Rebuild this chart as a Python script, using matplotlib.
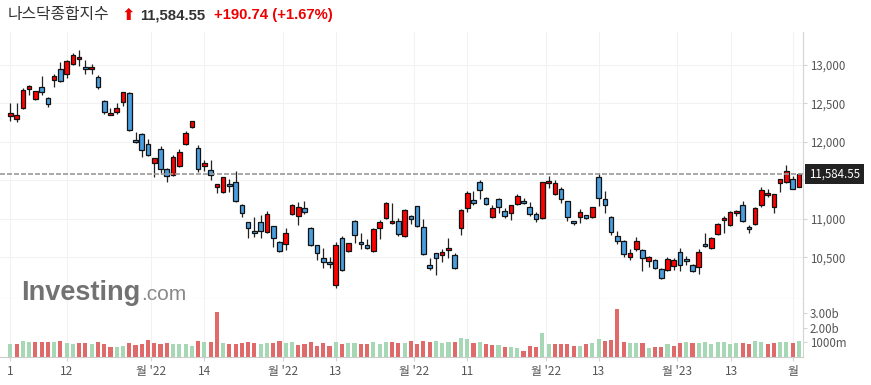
import numpy as np
import matplotlib
matplotlib.use("Agg")
import matplotlib.pyplot as plt
from matplotlib import transforms
from matplotlib.ticker import FuncFormatter

plt.rcParams["font.family"] = ["Noto Sans CJK KR", "DejaVu Sans"]

# daily candles (index points)
opens = [12333, 12294, 12437, 12684, 12554, 12710, 12571, 12801, 12944, 12879,
         13009, 13074, 12970, 12944, 12840, 12532, 12355, 12385, 12515, 12632,
         12021, 12099, 11969, 11722, 11904, 11644, 11566, 11683, 11969, 12190,
         11917, 11687, 11631, 11410, 11345, 11453, 11479, 11176, 10955, 10838,
         10955, 10825, 10903, 10695, 10669, 11059, 11033, 11137, 10877, 10656,
         10487, 10435, 10136, 10747, 10578, 10968, 10695, 10656, 10578, 10877,
         11007, 10942, 10968, 10773, 11033, 11163, 10890, 10396, 10552, 10526,
         10591, 10526, 10877, 11137, 11241, 11475, 11267, 11020, 11254, 11098,
         11072, 11189, 11228, 11150, 11059, 11007, 11462, 11319, 11384, 11228,
         10968, 11020, 11046, 11020, 11540, 11254, 11020, 10773, 10708, 10500,
         10604, 10591, 10448, 10461, 10344, 10331, 10383, 10565, 10474, 10396,
         10370, 10669, 10617, 10799, 10981, 10916, 11072, 11176, 10890, 10929,
         11176, 11306, 11150, 11462, 11475, 11514, 11410]
highs = [12502, 12502, 12697, 12740, 12666, 12857, 12588, 12879, 13035, 13065,
         13156, 13195, 13065, 13009, 12870, 12545, 12437, 12502, 12653, 12653,
         12125, 12112, 12034, 11795, 11947, 11657, 11830, 11904, 12142, 12272,
         11960, 11765, 11761, 11457, 11548, 11522, 11622, 11189, 10963, 11020,
         11046, 11098, 10911, 10708, 10877, 11189, 11215, 11232, 10890, 10664,
         10617, 10500, 10695, 10773, 10690, 10981, 10812, 10734, 10877, 10981,
         11215, 11202, 11007, 11124, 11046, 11167, 10994, 10487, 10560, 10604,
         10747, 10552, 11124, 11358, 11358, 11501, 11280, 11176, 11267, 11137,
         11184, 11319, 11267, 11215, 11085, 11484, 11553, 11501, 11410, 11236,
         10976, 11124, 11054, 11158, 11592, 11358, 11033, 10838, 10721, 10604,
         10760, 10604, 10513, 10474, 10357, 10500, 10487, 10617, 10513, 10409,
         10604, 10812, 10760, 10942, 11033, 11098, 11111, 11228, 10916, 11150,
         11410, 11384, 11327, 11522, 11696, 11553, 11600]
lows = [12272, 12263, 12428, 12610, 12541, 12610, 12450, 12710, 12775, 12827,
        13000, 12987, 12879, 12879, 12684, 12359, 12350, 12359, 12471, 12142,
        11992, 11800, 11817, 11548, 11579, 11475, 11557, 11670, 11960, 12177,
        11613, 11622, 11501, 11332, 11340, 11353, 11219, 11028, 10747, 10760,
        10747, 10812, 10630, 10569, 10591, 11050, 10916, 11059, 10647, 10461,
        10357, 10357, 10097, 10318, 10569, 10682, 10604, 10604, 10565, 10734,
        10994, 10933, 10773, 10768, 10929, 10890, 10526, 10331, 10266, 10435,
        10487, 10344, 10786, 11085, 11176, 11254, 11176, 11011, 11072, 11007,
        10981, 11180, 11189, 11033, 10955, 10994, 11397, 11310, 11202, 10968,
        10916, 10942, 11000, 11007, 11163, 11072, 10786, 10669, 10500, 10461,
        10578, 10318, 10370, 10344, 10214, 10318, 10331, 10318, 10396, 10305,
        10279, 10634, 10604, 10786, 10812, 10903, 11033, 10955, 10812, 10916,
        11150, 11289, 11072, 11345, 11466, 11388, 11410]
closes = [12372, 12346, 12671, 12727, 12660, 12650, 12497, 12853, 12788, 13048,
          13126, 13100, 12944, 12970, 12710, 12385, 12380, 12437, 12645, 12151,
          11995, 11891, 11826, 11787, 11644, 11553, 11800, 11865, 12112, 12268,
          11644, 11726, 11566, 11449, 11540, 11423, 11228, 11072, 10877, 10812,
          10838, 11059, 10747, 10578, 10812, 11176, 11150, 11085, 10656, 10552,
          10435, 10409, 10656, 10331, 10682, 10786, 10669, 10617, 10864, 10955,
          11202, 10968, 10799, 11111, 10994, 10903, 10539, 10357, 10487, 10565,
          10617, 10357, 11111, 11332, 11202, 11371, 11189, 11145, 11155, 11033,
          11176, 11293, 11202, 11059, 10994, 11475, 11488, 11462, 11254, 11020,
          10942, 11085, 11007, 11150, 11267, 11176, 10825, 10708, 10545, 10555,
          10708, 10487, 10500, 10357, 10227, 10478, 10470, 10396, 10448, 10318,
          10565, 10643, 10747, 10929, 11007, 11085, 11098, 10968, 10864, 11137,
          11371, 11332, 11319, 11514, 11618, 11393.81, 11584.55]
# volume in billions of shares
volumes = [0.85, 0.85, 1.09, 0.99, 0.99, 0.99, 0.99, 0.99, 1.09, 0.92,
           0.85, 0.92, 0.92, 0.85, 0.99, 0.85, 0.69, 0.69, 0.76, 0.92,
           0.81, 0.85, 1.15, 0.92, 0.85, 0.92, 0.85, 0.85, 0.85, 0.76,
           1.09, 0.99, 0.99, 3.07, 0.92, 0.85, 0.85, 0.92, 0.99, 0.92,
           0.85, 0.92, 0.92, 1.09, 0.92, 0.99, 0.81, 0.85, 0.99, 0.76,
           0.92, 0.76, 0.99, 0.85, 0.92, 0.92, 0.85, 0.85, 0.99, 0.85,
           0.99, 0.99, 0.92, 0.92, 1.09, 0.85, 1.09, 0.99, 1.06, 0.92,
           0.99, 0.99, 1.32, 1.20, 0.92, 0.99, 0.88, 0.79, 0.79, 0.69,
           0.69, 0.62, 0.39, 0.76, 0.69, 1.62, 0.85, 0.85, 0.85, 0.85,
           0.76, 0.76, 0.85, 0.92, 1.20, 1.09, 1.15, 3.28, 0.99, 0.92,
           0.92, 0.92, 0.62, 0.69, 0.69, 0.85, 0.76, 0.92, 0.99, 0.92,
           0.92, 0.99, 0.85, 0.99, 0.99, 0.85, 0.92, 0.92, 0.85, 1.11,
           0.99, 0.85, 0.92, 0.99, 0.99, 0.92, 1.11]

tick_pos = [0, 9, 22.5, 31, 43.5, 52, 64.5, 73, 85.6, 94, 106.5, 115.2, 125]
tick_labels = ["1", "12", "월 '22", "14", "월 '22", "13", "월 '22", "11",
               "월 '22", "13", "월 '23", "13", "월"]
price_ticks = [10500, 11000, 11500, 12000, 12500, 13000]
vol_ticks = [1.0, 2.0, 3.0]
vol_tick_labels = ["1000m", "2.00b", "3.00b"]

title_name = "나스닥종합지수"
last_price = closes[-1]
change = 190.74
change_pct = 1.67

UP = "#ff0000"
DOWN = "#4a9ee0"
VOL_UP = "#a6d8b6"
VOL_DOWN = "#e06a6a"
GRID = "#f2f2f2"
AXIS = "#d4d4d4"
LABEL = "#555555"

W, H = 871, 385


def fx(px):
    return px / W


def fy(py):
    return 1 - py / H


def price_label(val, pos):
    # the 11,500 label sits under the last-price tag, so leave it blank
    if abs(val - last_price) < 200:
        return ""
    return f"{val:,.0f}"


o = np.array(opens, dtype=float)
h = np.array(highs, dtype=float)
l = np.array(lows, dtype=float)
c = np.array(closes, dtype=float)
v = np.array(volumes, dtype=float)
x = np.arange(len(c))

fig = plt.figure(figsize=(W / 100, H / 100), dpi=100)
ax = fig.add_axes([0, fy(299), fx(803), fy(32) - fy(299)])
axv = fig.add_axes([0, fy(356.7), fx(803), fy(299) - fy(356.7)], sharex=ax)

# candles
up = c >= o
body_col = np.where(up, UP, DOWN)
ax.vlines(x, l, h, color="#222222", lw=0.9, zorder=2)
ax.bar(x, np.maximum(np.abs(c - o), 10), bottom=np.minimum(o, c), width=0.74,
       color=body_col, edgecolor="#111111", linewidth=0.9, zorder=3)
ax.axhline(last_price, color="#9a9a9a", lw=1.2, ls=(0, (3, 1.2)), zorder=4)

ax.set_xlim(-1.65, len(c) - 0.35)
ax.set_ylim(9958, 13429)
ax.set_yticks(price_ticks)
ax.yaxis.set_major_formatter(FuncFormatter(price_label))
ax.yaxis.tick_right()
ax.set_xticks(tick_pos)
ax.tick_params(axis="x", length=0, labelbottom=False)
ax.tick_params(axis="y", length=3, color=AXIS, labelsize=8.3, labelcolor=LABEL, pad=2)
ax.grid(True, color=GRID, lw=0.8, zorder=0)
for s in ["top", "left"]:
    ax.spines[s].set_visible(False)
ax.spines["right"].set_color(AXIS)
ax.spines["bottom"].set_color("#cccccc")

# last price tag
tr = transforms.blended_transform_factory(ax.transAxes, ax.transData)
ax.text(1.0 + 6 / 803, last_price, f"{last_price:,.2f}", transform=tr,
        ha="left", va="center", color="white", fontsize=8.3, zorder=10, clip_on=False,
        bbox=dict(boxstyle="square,pad=0.32", fc="#222222", ec="none"))

# volume
vol_up = np.concatenate([[True], c[1:] > c[:-1]])
vol_col = np.where(vol_up, VOL_UP, VOL_DOWN)
axv.bar(x, v, width=0.66, color=vol_col, zorder=2)
axv.set_ylim(0, 4.0)
axv.set_yticks(vol_ticks, vol_tick_labels)
axv.yaxis.tick_right()
axv.set_xticks(tick_pos, tick_labels)
axv.tick_params(axis="x", length=3, color=AXIS, labelsize=8.5, labelcolor=LABEL, pad=3)
axv.tick_params(axis="y", length=3, color=AXIS, labelsize=8.3, labelcolor=LABEL, pad=2)
axv.grid(True, axis="x", color=GRID, lw=0.8, zorder=0)
for s in ["top", "left"]:
    axv.spines[s].set_visible(False)
axv.spines["right"].set_color(AXIS)
axv.spines["bottom"].set_color("#cccccc")

# header
fig.text(fx(8), fy(15), title_name, fontsize=11.4, color="#333333", va="center")
fig.text(fx(122), fy(15.5), "⬆", fontsize=11.5, color="#ee0000", va="center",
         weight="bold", family=["DejaVu Sans"])
fig.text(fx(140), fy(15), f"{last_price:,.2f}", fontsize=10.7, color="#333333",
         weight="bold", va="center", family=["Liberation Sans"])
fig.text(fx(214), fy(15), f"+{change:.2f} (+{change_pct:.2f}%)", fontsize=10.7,
         color="#ee0000", weight="bold", va="center", family=["Liberation Sans"])

# watermark
fig.text(fx(21), fy(300), "Investing", fontsize=19.5, color="#727272", weight="bold",
         va="baseline", family=["Liberation Sans"])
fig.text(fx(141), fy(300), ".com", fontsize=15, color="#8a8a8a",
         va="baseline", family=["Liberation Sans"])

fig.savefig("out.png", dpi=100)
